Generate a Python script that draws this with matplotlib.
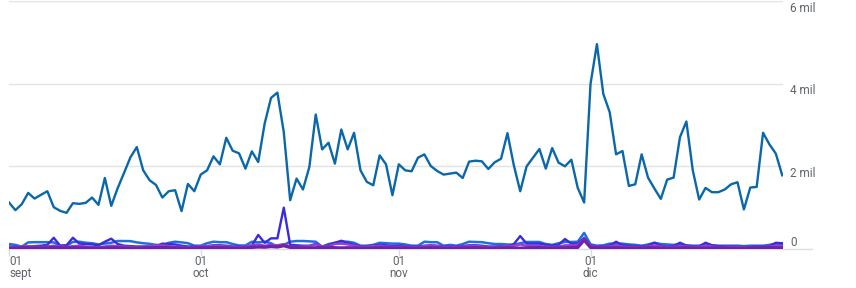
import matplotlib
matplotlib.use('Agg')
import matplotlib.pyplot as plt
import pandas as pd

plt.rcParams['font.family'] = ['Roboto', 'DejaVu Sans']

dates = pd.date_range('2023-09-01', '2023-12-31', freq='D')

main_series = [
    # Sept
    1125, 940, 1085, 1357, 1220, 1310, 1398, 1012, 923, 875, 1108, 1092, 1116, 1245, 1068,
    1718, 1044, 1470, 1840, 2217, 2466, 1904, 1663, 1550, 1245, 1398, 1422, 916, 1574, 1398,
    # Oct
    1800, 1904, 2241, 2048, 2691, 2378, 2314, 1944, 2362, 2105, 3029, 3655, 3784, 2827, 1181,
    1704, 1439, 1984, 3254, 2410, 2571, 2065, 2892, 2410, 2812, 1904, 1623, 1542, 2265, 2048, 1301,
    # Nov
    2048, 1904, 1880, 2209, 2289, 2008, 1888, 1800, 1824, 1848, 1718, 2113, 2137, 2121, 1936,
    2097, 2185, 2803, 2024, 1398, 2000, 2209, 2418, 1944, 2442, 2089, 2000, 2161, 1478, 1125,
    # Dec
    3993, 4957, 3752, 3309, 2290, 2370, 1526, 1566, 2290, 1727, 1462, 1213, 1679, 1727, 2707,
    3085, 1904, 1197, 1478, 1374, 1374, 1439, 1566, 1615, 957, 1487, 1502, 2812, 2531, 2306, 1783,
]

blue_series = [
    120, 100, 55, 160, 165, 165, 165, 160, 80, 80, 170, 176, 152, 140, 110,
    130, 150, 193, 193, 190, 160, 140, 125, 100, 90, 150, 176, 160, 140, 80,
    80, 140, 176, 165, 165, 120, 85, 85, 176, 160, 176, 140, 55, 100, 176,
    193, 193, 185, 176, 55, 120, 150, 176, 176, 150, 80, 80, 100, 150, 140, 130,
    130, 110, 80, 80, 176, 165, 165, 80, 100, 80, 120, 176, 170, 165, 140,
    120, 120, 110, 100, 140, 170, 170, 170, 120, 100, 140, 170, 170, 176, 390,
    110, 80, 90, 130, 130, 130, 110, 100, 80, 110, 150, 120, 110, 100, 110,
    90, 80, 80, 120, 90, 80, 80, 80, 80, 70, 80, 80, 80, 100, 130, 120,
]

indigo_series = [
    60, 50, 50, 60, 70, 80, 100, 272, 80, 90, 272, 130, 120, 110, 90,
    176, 250, 120, 80, 70, 60, 60, 60, 70, 130, 120, 110, 80, 60, 60,
    60, 70, 90, 90, 80, 60, 60, 60, 80, 340, 150, 258, 258, 1000, 100,
    90, 80, 80, 120, 60, 90, 150, 200, 150, 100, 60, 70, 80, 100, 90, 70,
    80, 70, 60, 60, 80, 90, 80, 60, 60, 60, 70, 90, 90, 80, 60,
    60, 70, 70, 120, 313, 130, 130, 130, 100, 80, 100, 241, 130, 130, 270,
    80, 70, 60, 80, 176, 90, 80, 70, 60, 80, 152, 80, 60, 70, 152,
    80, 60, 60, 152, 90, 70, 60, 60, 60, 50, 50, 60, 60, 70, 150, 140,
]

violet_series = [
    50, 40, 60, 70, 60, 50, 60, 80, 60, 50, 70, 80, 60, 50, 40,
    60, 80, 70, 60, 50, 50, 60, 70, 80, 90, 70, 60, 50, 40, 50,
    60, 70, 80, 70, 60, 50, 50, 60, 90, 110, 80, 100, 90, 120, 60,
    50, 60, 70, 110, 60, 70, 120, 130, 110, 80, 50, 60, 70, 80, 60, 50,
    50, 60, 50, 50, 70, 80, 70, 50, 50, 50, 60, 70, 70, 60, 50,
    50, 60, 70, 80, 110, 80, 70, 70, 60, 50, 60, 90, 90, 100, 250,
    70, 60, 50, 60, 90, 60, 50, 50, 50, 60, 90, 60, 50, 50, 70,
    60, 50, 50, 80, 60, 50, 50, 50, 50, 40, 40, 50, 50, 60, 80, 70,
]

purple_series = [
    20, 20, 30, 30, 25, 25, 30, 35, 30, 25, 30, 30, 25, 20, 20,
    25, 30, 30, 25, 20, 20, 25, 30, 30, 35, 30, 25, 20, 20, 25,
    30, 30, 35, 30, 25, 20, 20, 25, 40, 50, 45, 60, 50, 80, 40,
    30, 25, 25, 30, 35, 40, 30, 25, 30, 25, 20, 20, 25, 30, 25, 20,
    20, 25, 20, 20, 25, 30, 25, 20, 20, 20, 25, 30, 30, 25, 20,
    20, 25, 30, 25, 20, 25, 30, 30, 25, 20, 25, 30, 35, 40, 217,
    40, 30, 25, 25, 30, 25, 20, 20, 25, 30, 30, 25, 20, 20, 25,
    30, 25, 20, 20, 25, 30, 25, 20, 20, 20, 25, 30, 30, 35, 30, 20,
]

x_tick_dates = pd.to_datetime(['2023-09-01', '2023-10-01', '2023-11-01', '2023-12-01'])
x_tick_labels = ['01\nsept', '01\noct', '01\nnov', '01\ndic']
y_ticks = [0, 2000, 4000, 6000]
y_tick_labels = ['0', '2 mil', '4 mil', '6 mil']

W, H = 856, 288
fig = plt.figure(figsize=(W / 100, H / 100), dpi=100)
ax = fig.add_axes([9 / W, 1 - 249 / H, 774.3 / W, 248 / H])

ax.plot(dates, blue_series, color='#1f6fe3', lw=1.8, zorder=3)
ax.plot(dates, indigo_series, color='#3a2bdc', lw=1.7, zorder=4)
ax.plot(dates, violet_series, color='#9a3fd0', lw=1.7, zorder=5)
ax.plot(dates, purple_series, color='#7222a6', lw=2.4, zorder=6)
ax.plot(dates, main_series, color='#0a68aa', lw=1.7, zorder=7)

ax.set_xlim(dates[0], dates[-1] + pd.Timedelta(hours=4))
ax.set_ylim(0, 6000)

for s in ax.spines.values():
    s.set_visible(False)

ax.set_yticks(y_ticks)
ax.yaxis.grid(True, color='#e3e3e3', lw=1)
ax.set_axisbelow(True)
ax.tick_params(axis='y', length=0, labelleft=False, labelright=False)

for v, lab in zip(y_ticks, y_tick_labels):
    off = 7 if v == 0 else -7
    ax.annotate(lab, xy=(1, v), xycoords=('axes fraction', 'data'),
                xytext=(7, off), textcoords='offset pixels',
                ha='left', va='center', fontsize=8.5, color='#5f6368')

ax.plot([0, 1.037], [0, 0], transform=ax.get_yaxis_transform(), clip_on=False,
        color='#dadce0', lw=1, zorder=1)

ax.set_xticks(x_tick_dates)
ax.set_xticklabels(x_tick_labels, fontsize=8.5, color='#5f6368', linespacing=0.95)
ax.tick_params(axis='x', length=5, width=1, color='#dadce0', pad=-1)
ax.get_xticklabels()[0].set_ha('left')

fig.savefig('out.png', dpi=100)
